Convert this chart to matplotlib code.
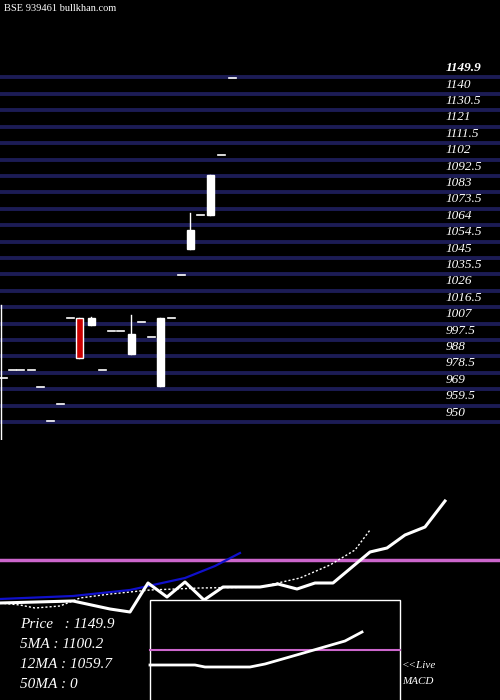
import matplotlib
matplotlib.use("Agg")
import matplotlib.pyplot as plt
from matplotlib.patches import Rectangle

# price ladder on the right
levels = [1149.9, 1140, 1130.5, 1121, 1111.5, 1102, 1092.5, 1083, 1073.5, 1064,
          1054.5, 1045, 1035.5, 1026, 1016.5, 1007, 997.5, 988, 978.5, 969, 959.5, 950]

# candles: x position, open, high, low, close
cx = [3, 12, 20, 31, 40, 50, 60, 70, 79, 91, 102, 111, 120, 131, 141, 151, 160, 171, 181, 190, 200, 210, 221, 232]
c_open = [975.5, 980, 980, 980, 970, 950.5, 960.5, 1010, 1010, 1006, 980, 1003, 1003, 989.5, 1008, 999, 971, 1010, 1035, 1050, 1070, 1070, 1104.7, 1149.5]
c_high = [975.5, 980, 980, 980, 970, 950.5, 960.5, 1010, 1010, 1011, 980, 1003, 1003, 1012, 1008, 999, 1010, 1010, 1035, 1071, 1070, 1093, 1104.7, 1149.5]
c_low = [975.5, 980, 980, 980, 970, 950.5, 960.5, 1010, 987, 1006, 980, 1003, 1003, 989.5, 1008, 999, 971, 1010, 1035, 1050, 1070, 1070, 1104.7, 1149.5]
c_close = [975.5, 980, 980, 980, 970, 950.5, 960.5, 1010, 987, 1010, 980, 1003, 1003, 1001, 1008, 999, 1010, 1010, 1035, 1061, 1070, 1093, 1104.7, 1149.5]

# lower panel lines (pixel-height values)
px_x = [0, 73, 110, 130, 148, 167, 185, 204, 223, 260, 278, 297, 315, 333, 370, 387, 405, 425, 445]
px_y = [603, 601, 609, 612, 583, 597, 582, 600, 587, 587, 584, 589, 583, 583, 552, 548, 535, 527, 501]
ma_x = [0, 73, 130, 185, 215, 240]
ma_y = [599, 596, 590, 578, 566, 553]
dot_x = [0, 20, 35, 60, 80, 110, 150, 200, 260, 300, 330, 355, 370]
dot_y = [603, 605, 608, 606, 598, 594, 590, 588, 587, 578, 565, 550, 530]
macd_x = [150, 195, 205, 250, 265, 300, 345, 362]
macd_y = [665, 665, 667, 667, 664, 654, 641, 632]

info = ["Price   : 1149.9", "5MA : 1100.2", "12MA : 1059.7", "50MA : 0"]

fig = plt.figure(figsize=(5, 7), dpi=100, facecolor="black")

# top price panel
ax = fig.add_axes([0, 260 / 700, 1, 440 / 700])
ax.set_facecolor("black")
ax.set_xlim(0, 500)
ax.set_ylim(939.57, 1194.5)
ax.axis("off")
for i, lv in enumerate(levels):
    ax.axhline(lv, color="#1c1c55", lw=2.8, zorder=1)
    ax.text(446, lv + 2.0, f"{lv:g}", color="white", fontsize=9.5, family="Liberation Serif",
            style="italic", weight="bold" if i == 0 else "normal", va="bottom", ha="left")
for x, o, h, l, c in zip(cx, c_open, c_high, c_low, c_close):
    if o == c:
        ax.plot([x - 3.5, x + 3.5], [o, o], color="white", lw=1.2, zorder=3)
        continue
    ax.plot([x, x], [l, h], color="white", lw=1, zorder=2)
    fc = "white" if c > o else "#cc0000"
    ax.add_patch(Rectangle((x - 3.5, min(o, c)), 7, abs(c - o), facecolor=fc,
                           edgecolor="white", lw=1, zorder=3))
ax.plot([1, 1], [939.57, 1018], color="white", lw=1)
ax.text(4, 1192, "BSE 939461 bullkhan.com", color="white", fontsize=7.5,
        family="Liberation Serif", va="top")

# lower panel in pixel coordinates
bx = fig.add_axes([0, 0, 1, 260 / 700])
bx.set_facecolor("black")
bx.set_xlim(0, 500)
bx.set_ylim(700, 440)
bx.axis("off")
bx.axhline(560, color="#cc66cc", lw=2.5)
bx.plot(dot_x, dot_y, color="white", lw=1, ls=(0, (1.5, 1.5)))
bx.plot(ma_x, ma_y, color="#1010cc", lw=1.6)
bx.plot(px_x, px_y, color="white", lw=2.2)
bx.add_patch(Rectangle((150, 600), 250, 101, facecolor="black", edgecolor="white", lw=1, zorder=4))
bx.plot([150, 400], [650, 650], color="#cc66cc", lw=1.5, zorder=5)
bx.plot(macd_x, macd_y, color="white", lw=2, zorder=5)
bx.text(402, 666, "<<Live", color="white", fontsize=8, family="Liberation Serif", style="italic", va="center")
bx.text(402, 681, "MACD", color="white", fontsize=8, family="Liberation Serif", style="italic", va="center")
for i, s in enumerate(info):
    bx.text(20, 625 + i * 20, s, color="white", fontsize=11, family="Liberation Serif",
            style="italic", va="center", zorder=6)

fig.savefig("out.png", dpi=100, facecolor="black")
